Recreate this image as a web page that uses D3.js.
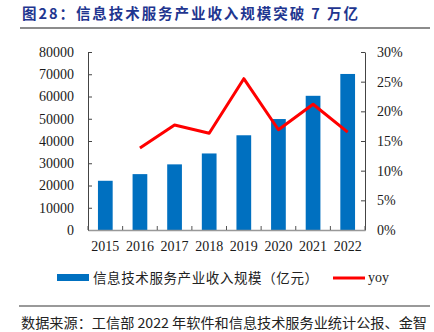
<!DOCTYPE html>
<html>
<head>
<meta charset="utf-8">
<script src="https://cdn.jsdelivr.net/npm/d3@7"></script>
<style>
  body { margin: 0; background: #fff; }
  svg { display: block; }
</style>
</head>
<body>
<div id="chart"></div>
<script>
// data
const years = ['2015', '2016', '2017', '2018', '2019', '2020', '2021', '2022'];
const revenue = [22123, 25114, 29500, 34400, 42574, 49868, 60312, 70128];   // 亿元
const yoy = [null, 13.8, 17.7, 16.3, 25.5, 16.9, 21.2, 16.5];              // %
const leftTicks = [0, 10000, 20000, 30000, 40000, 50000, 60000, 70000, 80000];
const rightTicks = [0, 5, 10, 15, 20, 25, 30];

const W = 434, H = 332;
const plot = { left: 88, right: 365, top: 52, bottom: 230 };
const barColor = '#0070c0';
const serif = '"Liberation Serif", "Times New Roman", serif';
const cjk = '"Noto Sans CJK SC", sans-serif';

const svg = d3.select('#chart').append('svg')
  .attr('width', W)
  .attr('height', H);

svg.append('rect').attr('width', W).attr('height', H).attr('fill', '#fff');

// title + rule
svg.append('text')
  .attr('x', 22)
  .attr('y', 19)
  .attr('textLength', 336)
  .attr('lengthAdjust', 'spacing')
  .style('font-family', cjk)
  .style('font-weight', 'bold')
  .style('font-size', '14.5px')
  .style('fill', '#1f3690')
  .text('图28：信息技术服务产业收入规模突破 7 万亿');

svg.append('line')
  .attr('x1', 20).attr('x2', 430)
  .attr('y1', 28).attr('y2', 28)
  .attr('stroke', '#8c8c8c')
  .attr('stroke-width', 2);

// scales
const x = d3.scaleBand()
  .domain(years)
  .range([plot.left, plot.right])
  .paddingInner(0.575)
  .paddingOuter(0.2875);

const y = d3.scaleLinear().domain([0, 80000]).range([plot.bottom, plot.top]);
const y2 = d3.scaleLinear().domain([0, 30]).range([plot.bottom, plot.top]);

// bars
svg.selectAll('.bar')
  .data(years)
  .enter().append('rect')
  .attr('class', 'bar')
  .attr('x', d => x(d))
  .attr('y', (d, i) => y(revenue[i]))
  .attr('width', x.bandwidth())
  .attr('height', (d, i) => y(0) - y(revenue[i]))
  .attr('fill', barColor);

// left axis
const gLeft = svg.append('g')
  .attr('transform', `translate(${plot.left},0)`)
  .call(d3.axisLeft(y).tickValues(leftTicks).tickFormat(d3.format('d'))
    .tickSizeInner(-4).tickSizeOuter(0).tickPadding(14));

// right axis
const gRight = svg.append('g')
  .attr('transform', `translate(${plot.right},0)`)
  .call(d3.axisRight(y2).tickValues(rightTicks).tickFormat(d => d + '%')
    .tickSizeInner(-4).tickSizeOuter(0).tickPadding(12));

// bottom axis: labels centred on bars, ticks on the category boundaries
const gBottom = svg.append('g')
  .attr('transform', `translate(0,${plot.bottom})`)
  .call(d3.axisBottom(x).tickSize(0).tickPadding(11));
gBottom.select('.domain').attr('stroke', '#999').attr('stroke-width', 1.5);

const step = x.step();
gBottom.selectAll('.bound')
  .data(d3.range(years.length + 1))
  .enter().append('line')
  .attr('class', 'bound')
  .attr('x1', i => plot.left + i * step)
  .attr('x2', i => plot.left + i * step)
  .attr('y1', 0).attr('y2', -4)
  .attr('stroke', '#555');

[gLeft, gRight, gBottom].forEach(g => {
  g.selectAll('text')
    .style('font-family', serif)
    .style('font-size', '14px')
    .style('fill', '#1a1a1a');
});
[gLeft, gRight].forEach(g => {
  g.select('.domain').attr('stroke', '#444');
  g.selectAll('.tick line').attr('stroke', '#444');
});

// yoy line
const yoyPts = years.map((d, i) => [d, yoy[i]]).filter(d => d[1] != null);
svg.append('path')
  .datum(yoyPts)
  .attr('fill', 'none')
  .attr('stroke', '#ff0000')
  .attr('stroke-width', 3)
  .attr('stroke-linejoin', 'round')
  .attr('d', d3.line()
    .x(d => x(d[0]) + x.bandwidth() / 2)
    .y(d => y2(d[1])));

// legend
const legend = svg.append('g');
legend.append('rect')
  .attr('x', 57).attr('y', 274)
  .attr('width', 32).attr('height', 7)
  .attr('fill', barColor);
legend.append('text')
  .attr('x', 93).attr('y', 278)
  .attr('dy', '0.35em')
  .attr('textLength', 225)
  .attr('lengthAdjust', 'spacing')
  .style('font-family', cjk)
  .style('font-size', '13.5px')
  .style('fill', '#222')
  .text('信息技术服务产业收入规模（亿元）');
legend.append('line')
  .attr('x1', 333).attr('x2', 365)
  .attr('y1', 278).attr('y2', 278)
  .attr('stroke', '#ff0000')
  .attr('stroke-width', 3);
legend.append('text')
  .attr('x', 368).attr('y', 278)
  .attr('dy', '0.32em')
  .style('font-family', serif)
  .style('font-size', '14px')
  .style('fill', '#222')
  .text('yoy');

// source line
svg.append('line')
  .attr('x1', 19).attr('x2', 430)
  .attr('y1', 306).attr('y2', 306)
  .attr('stroke', '#777')
  .attr('stroke-width', 1.5);

svg.append('text')
  .attr('x', 21).attr('y', 323)
  .attr('dy', '0.35em')
  .attr('textLength', 406)
  .attr('lengthAdjust', 'spacingAndGlyphs')
  .style('font-family', cjk)
  .style('font-size', '13.5px')
  .style('fill', '#222')
  .text('数据来源：工信部 2022 年软件和信息技术服务业统计公报、金智');
</script>
</body>
</html>
